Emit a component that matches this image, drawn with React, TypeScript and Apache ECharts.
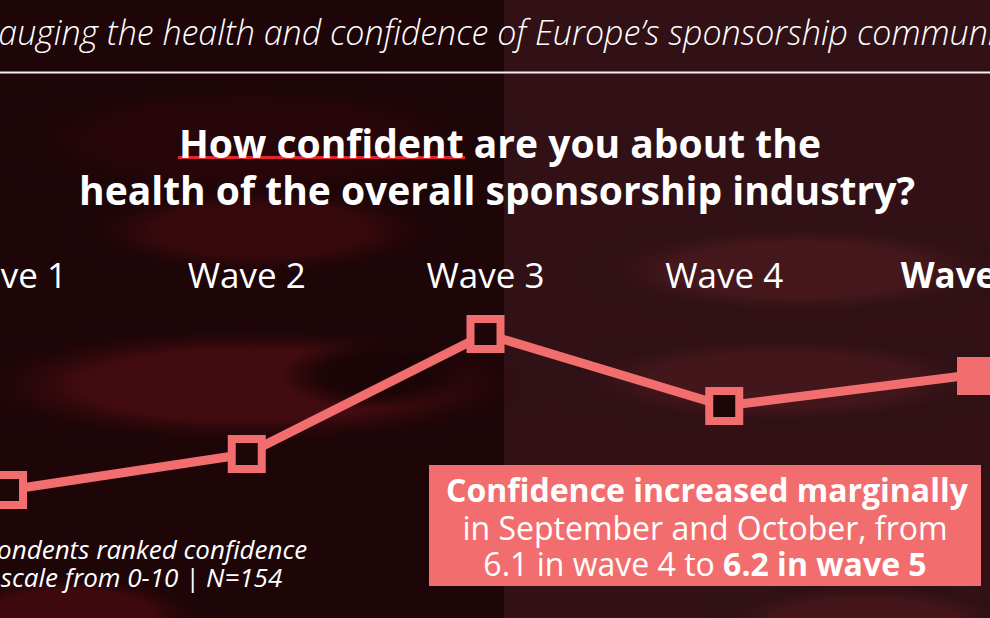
import React, { useEffect, useRef } from "react";
import * as echarts from "echarts";

const waves = ["Wave 1", "Wave 2", "Wave 3", "Wave 4", "Wave 5"];
const confidence = [5.82, 5.94, 6.34, 6.1, 6.2];
const headerText = "Gauging the health and confidence of Europe\u2019s sponsorship community";
const titleLines = ["How confident are you about the", "health of the overall sponsorship industry?"];
const noteLines = ["Respondents ranked confidence", "on a scale from 0-10 | N=154"];
const boxLines = ["Confidence increased marginally", "in September and October, from"];
const boxLast = ["6.1 in wave 4 to ", "6.2 in wave 5"];

const CORAL = "#f26e6e";
const FONT = "'Open Sans', Lato, sans-serif";

function blob(x: number, y: number, w: number, h: number, c: string, z = -9) {
  return {
    type: "rect", z, silent: true,
    shape: { x, y, width: w, height: h },
    style: {
      fill: new echarts.graphic.RadialGradient(0.5, 0.5, 0.5, [
        { offset: 0, color: c },
        { offset: 0.55, color: c },
        { offset: 1, color: "rgba(0,0,0,0)" },
      ]),
    },
  };
}

export default function App() {
  const ref = useRef<HTMLDivElement>(null);
  useEffect(() => {
    if (!ref.current) return;
    const chart = echarts.init(ref.current, null, { renderer: "svg" });
    const last = waves.length - 1;
    chart.setOption({
      animation: false,
      backgroundColor: "#1d0508",
      grid: { left: 8, right: 27, top: 286, bottom: 32, containLabel: false, outerBoundsMode: "none" },
      xAxis: {
        type: "category",
        position: "top",
        boundaryGap: false,
        data: waves,
        axisLine: { show: false },
        axisTick: { show: false },
        splitLine: { show: false },
        axisLabel: {
          interval: 0,
          hideOverlap: false,
          color: "#ffffff",
          fontSize: 35,
          fontFamily: FONT,
          margin: 12,
          verticalAlign: "middle",
          formatter: (v: string) => (v === waves[last] ? `{b|${v}}` : `{n|${v}}`),
          rich: {
            n: { color: "#ffffff", fontSize: 35, fontFamily: FONT, verticalAlign: "middle" },
            b: { color: "#ffffff", fontSize: 35, fontFamily: FONT, fontWeight: "bold", verticalAlign: "middle" },
          },
        },
      },
      yAxis: { type: "value", min: 5.5, max: 6.5, show: false },
      graphic: [
        // background texture
        { type: "rect", z: -10, silent: true, shape: { x: 504, y: 0, width: 486, height: 618 }, style: { fill: "rgba(70,30,36,0.5)" } },
        blob(-60, 320, 620, 130, "rgba(120,20,26,0.4)"),
        blob(60, 180, 400, 100, "rgba(110,18,24,0.3)"),
        blob(570, 220, 460, 100, "rgba(120,40,46,0.28)"),
        blob(540, 330, 480, 100, "rgba(110,35,40,0.28)"),
        blob(280, 340, 190, 70, "rgba(8,0,2,0.65)", -8),
        blob(-80, 570, 300, 90, "rgba(110,16,22,0.4)"),
        blob(700, 580, 330, 80, "rgba(110,30,36,0.3)"),
        blob(-40, 70, 580, 140, "rgba(60,8,12,0.3)"),
        // header
        { type: "text", z: 10, x: -25, y: 32, style: { text: headerText, fill: "#ffffff", font: `italic 300 34px ${FONT}`, align: "left", verticalAlign: "middle" } },
        { type: "rect", z: 10, shape: { x: 0, y: 71.5, width: 990, height: 2 }, style: { fill: "#f4eeee" } },
        // title
        { type: "text", z: 10, x: 500, y: 142, style: { text: titleLines[0], fill: "#ffffff", font: `bold 39px ${FONT}`, lineHeight: 44, align: "center", verticalAlign: "middle" } },
        { type: "text", z: 10, x: 497, y: 189, style: { text: titleLines[1], fill: "#ffffff", font: `bold 39px ${FONT}`, lineHeight: 44, align: "center", verticalAlign: "middle" } },
        { type: "rect", z: 9, shape: { x: 178, y: 156, width: 287, height: 3 }, style: { fill: "#e3262d" } },
        // footnote
        { type: "text", z: 10, x: -57, y: 549, style: { text: noteLines[0], fill: "#ffffff", font: `italic 26px ${FONT}`, lineHeight: 27, align: "left", verticalAlign: "middle" } },
        { type: "text", z: 10, x: -57, y: 577, style: { text: noteLines[1], fill: "#ffffff", font: `italic 26px ${FONT}`, lineHeight: 27, align: "left", verticalAlign: "middle" } },
        // annotation box
        { type: "rect", z: 10, shape: { x: 429, y: 465, width: 552, height: 121 }, style: { fill: CORAL } },
        { type: "text", z: 11, x: 707, y: 489, style: { text: boxLines[0], fill: "#ffffff", font: `bold 32px ${FONT}`, lineHeight: 34, align: "center", verticalAlign: "middle" } },
        { type: "text", z: 11, x: 705, y: 527, style: { text: boxLines[1], fill: "#ffffff", font: `32px ${FONT}`, lineHeight: 34, align: "center", verticalAlign: "middle" } },
        {
          type: "text", z: 11, x: 705, y: 563,
          style: {
            text: `{r|${boxLast[0]}}{b|${boxLast[1]}}`,
            align: "center", verticalAlign: "middle",
            rich: {
              r: { fill: "#ffffff", fontSize: 32, lineHeight: 34, fontFamily: FONT },
              b: { fill: "#ffffff", fontSize: 32, lineHeight: 34, fontFamily: FONT, fontWeight: "bold" },
            },
          },
        },
      ],
      series: [
        {
          type: "line",
          data: confidence.map((v, i) =>
            i === last
              ? { value: v, symbolOffset: [13, 0], itemStyle: { color: CORAL, borderColor: CORAL } }
              : v
          ),
          symbol: "rect",
          symbolSize: 30,
          showAllSymbol: true,
          lineStyle: { color: CORAL, width: 9 },
          itemStyle: { color: "#1e0507", borderColor: CORAL, borderWidth: 8 },
          z: 5,
        },
      ],
    });
    return () => chart.dispose();
  }, []);
  return <div ref={ref} style={{ position: "fixed", left: 0, top: 0, width: 990, height: 618 }} />;
}
